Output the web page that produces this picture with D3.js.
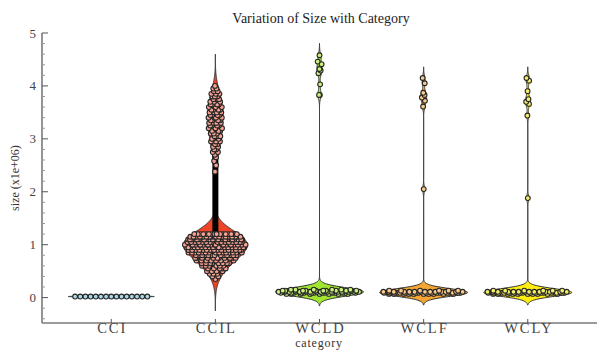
<!DOCTYPE html>
<html>
<head>
<meta charset="utf-8">
<script src="https://cdn.jsdelivr.net/npm/d3@7"></script>
<style>
  body { margin: 0; background: #fff; }
</style>
</head>
<body>
<svg id="chart" width="598" height="351" font-family="'Liberation Serif', 'Times New Roman', 'DejaVu Serif', serif"></svg>
<script>
// ---- data: size (x1e+06) per category, as value levels with the number of observations at each level
const categories = ["CCI", "CCIL", "WCLD", "WCLF", "WCLY"];

const cciLevels = [0.02];
const cciCounts = [15];

const ccilLevels = [0.35, 0.40, 0.45, 0.50, 0.55, 0.60, 0.65, 0.70, 0.75, 0.80, 0.85, 0.90, 0.95, 1.00, 1.05, 1.10, 1.15, 1.20,
                    2.38, 2.50, 2.58, 2.65, 2.70, 2.75, 2.80, 2.85, 2.90, 2.95, 3.00, 3.05, 3.10, 3.15, 3.20, 3.25, 3.30,
                    3.35, 3.40, 3.45, 3.50, 3.55, 3.60, 3.65, 3.70, 3.75, 3.80, 3.85, 3.90, 3.95, 4.00];
const ccilCounts = [1, 2, 3, 4, 5, 6, 8, 9, 11, 13, 15, 17, 19, 21, 23, 24, 24, 20,
                    1, 1, 1, 1, 1, 2, 2, 2, 2, 3, 3, 3, 3, 3, 4, 4, 4,
                    4, 4, 4, 4, 4, 4, 4, 3, 3, 3, 3, 2, 2, 1];

const wcldLevels = [0.07, 0.09, 0.11, 0.13, 0.15, 3.83, 4.03, 4.24, 4.29, 4.32, 4.41, 4.46, 4.58];
const wcldCounts = [8, 14, 16, 12, 6, 2, 1, 1, 1, 1, 1, 1, 1];

const wclfLevels = [0.07, 0.09, 0.11, 0.13, 2.05, 3.61, 3.72, 3.78, 3.83, 3.87, 4.05, 4.15];
const wclfCounts = [10, 18, 14, 6, 1, 1, 1, 1, 1, 1, 1, 1];

const wclyLevels = [0.07, 0.09, 0.11, 0.13, 1.88, 3.44, 3.66, 3.70, 3.75, 3.90, 4.10, 4.15];
const wclyCounts = [10, 18, 14, 6, 1, 1, 1, 1, 1, 1, 1, 1];

const yMajorTicks = [0, 1, 2, 3, 4, 5];
const yMinorTicks = [-0.4, -0.2, 0.2, 0.4, 0.6, 0.8, 1.2, 1.4, 1.6, 1.8, 2.2, 2.4, 2.6, 2.8, 3.2, 3.4, 3.6, 3.8, 4.2, 4.4, 4.6, 4.8];

// ---- per-category drawing settings
const groupStyle = {
  CCI:  { violin: "#9ecfe0", point: "#add8e6", bw: 0.01,  width: 43 },
  CCIL: { violin: "#ee4528", point: "#f6a393", bw: 0.2,   width: 32 },
  WCLD: { violin: "#a2e634", point: "#c8f07c", bw: 0.075, width: 44 },
  WCLF: { violin: "#f5a531", point: "#f8c98c", bw: 0.07,  width: 44 },
  WCLY: { violin: "#ffee10", point: "#f4ee6a", bw: 0.07,  width: 44 }
};

const expand = (levels, counts) => levels.flatMap((v, i) => Array(counts[i]).fill(v));
const groups = [
  { key: "CCI",  values: expand(cciLevels, cciCounts) },
  { key: "CCIL", values: expand(ccilLevels, ccilCounts) },
  { key: "WCLD", values: expand(wcldLevels, wcldCounts) },
  { key: "WCLF", values: expand(wclfLevels, wclfCounts) },
  { key: "WCLY", values: expand(wclyLevels, wclyCounts) }
];

// ---- layout
const W = 598, H = 351;
const m = { left: 42, right: 1, top: 33, bottom: 28 };
const svg = d3.select("#chart");

const x = d3.scalePoint().domain(categories).range([m.left, W - m.right]).padding(0.665);
const y = d3.scaleLinear().domain([-0.48, 5.0]).range([H - m.bottom, m.top]);

// Gaussian kernel density
function kde(values, bw) {
  const n = values.length, c = 1 / (n * bw * Math.sqrt(2 * Math.PI));
  return t => {
    let s = 0;
    for (const v of values) { const z = (t - v) / bw; s += Math.exp(-0.5 * z * z); }
    return s * c;
  };
}
// van der Corput sequence (base 2) used for quasirandom point offsets
function vdc(n) {
  let r = 0, f = 0.5;
  while (n > 0) { r += f * (n & 1); n >>= 1; f *= 0.5; }
  return r;
}

const violinLayer = svg.append("g");
const boxLayer = svg.append("g");
const pointLayer = svg.append("g");

groups.forEach(g => {
  const st = groupStyle[g.key];
  const cx = x(g.key);
  const dens = kde(g.values, st.bw);
  const lo = d3.min(g.values) - 3 * st.bw, hi = d3.max(g.values) + 3 * st.bw;
  const grid = d3.range(0, 601).map(i => lo + (hi - lo) * i / 600);
  const dv = grid.map(dens);
  const maxD = d3.max(dv);
  const wScale = st.width / maxD;
  const pts = grid.map((t, i) => ({ t, w: dv[i] * wScale }));

  violinLayer.append("path")
    .datum(pts)
    .attr("d", d3.area().x0(d => cx - d.w).x1(d => cx + d.w).y(d => y(d.t)))
    .attr("fill", st.violin)
    .attr("stroke", "#333")
    .attr("stroke-width", 1)
    .attr("stroke-linejoin", "round");

  // narrow boxplot
  const sorted = g.values.slice().sort(d3.ascending);
  const q1 = d3.quantileSorted(sorted, 0.25), q3 = d3.quantileSorted(sorted, 0.75);
  const iqr = q3 - q1;
  const wLo = d3.min(sorted.filter(v => v >= q1 - 1.5 * iqr));
  const wHi = d3.max(sorted.filter(v => v <= q3 + 1.5 * iqr));
  boxLayer.append("line").attr("x1", cx).attr("x2", cx).attr("y1", y(wLo)).attr("y2", y(wHi))
    .attr("stroke", "#000").attr("stroke-width", 1);
  boxLayer.append("rect").attr("x", cx - 3).attr("width", 6)
    .attr("y", y(q3)).attr("height", Math.max(0.5, y(q1) - y(q3)))
    .attr("fill", "#000");

  // quasirandom points shaped by the density
  const order = d3.range(g.values.length).sort((a, b) => g.values[a] - g.values[b] || a - b);
  const offs = new Array(g.values.length);
  order.forEach((idx, rank) => {
    const v = g.values[idx];
    offs[idx] = (vdc(rank + 1) - 0.5) * 2 * st.width * dens(v) / maxD * 0.96;
  });
  pointLayer.append("g").selectAll("circle")
    .data(g.values.map((v, i) => ({ v, o: offs[i] })))
    .join("circle")
    .attr("cx", d => cx + d.o)
    .attr("cy", d => y(d.v))
    .attr("r", 2.4)
    .attr("fill", st.point)
    .attr("stroke", "#262626")
    .attr("stroke-width", 1.1);
});

// ---- axes
const axisColor = "#7a7a7a";
const ax = svg.append("g");
ax.append("line").attr("x1", m.left).attr("x2", m.left).attr("y1", y(5.0)).attr("y2", y(-0.48))
  .attr("stroke", axisColor).attr("stroke-width", 1.6);
ax.append("line").attr("x1", m.left).attr("x2", W - m.right).attr("y1", y(-0.48)).attr("y2", y(-0.48))
  .attr("stroke", axisColor).attr("stroke-width", 1.6);

ax.selectAll(".ymaj").data(yMajorTicks).join("line")
  .attr("x1", m.left).attr("x2", m.left + 6).attr("y1", d => y(d)).attr("y2", d => y(d))
  .attr("stroke", "#555").attr("stroke-width", 1);
ax.selectAll(".ymin").data(yMinorTicks).join("line")
  .attr("x1", m.left).attr("x2", m.left + 3).attr("y1", d => y(d)).attr("y2", d => y(d))
  .attr("stroke", "#999").attr("stroke-width", 1);
ax.selectAll(".ylab").data(yMajorTicks).join("text")
  .attr("x", m.left - 6).attr("y", d => y(d)).attr("dy", "0.35em")
  .attr("text-anchor", "end").attr("font-size", 13).attr("fill", "#444")
  .text(d => d);

ax.selectAll(".xtick").data(categories).join("line")
  .attr("x1", d => x(d)).attr("x2", d => x(d)).attr("y1", y(-0.48)).attr("y2", y(-0.48) - 4)
  .attr("stroke", "#555").attr("stroke-width", 1);
ax.selectAll(".xlab").data(categories).join("text")
  .attr("x", d => x(d) + 1).attr("y", 333)
  .attr("text-anchor", "middle").attr("font-size", 14.5).attr("letter-spacing", 2).attr("fill", "#444")
  .text(d => d);

svg.append("text").attr("x", 319).attr("y", 347).attr("text-anchor", "middle")
  .attr("font-size", 12).attr("letter-spacing", 0.8).attr("fill", "#333").text("category");
svg.append("text").attr("transform", "translate(19,178) rotate(-90)").attr("text-anchor", "middle")
  .attr("font-size", 12).attr("fill", "#333").text("size (x1e+06)");
svg.append("text").attr("x", 321).attr("y", 23).attr("text-anchor", "middle")
  .attr("font-size", 14).attr("fill", "#222").text("Variation of Size with Category");
</script>
</body>
</html>
